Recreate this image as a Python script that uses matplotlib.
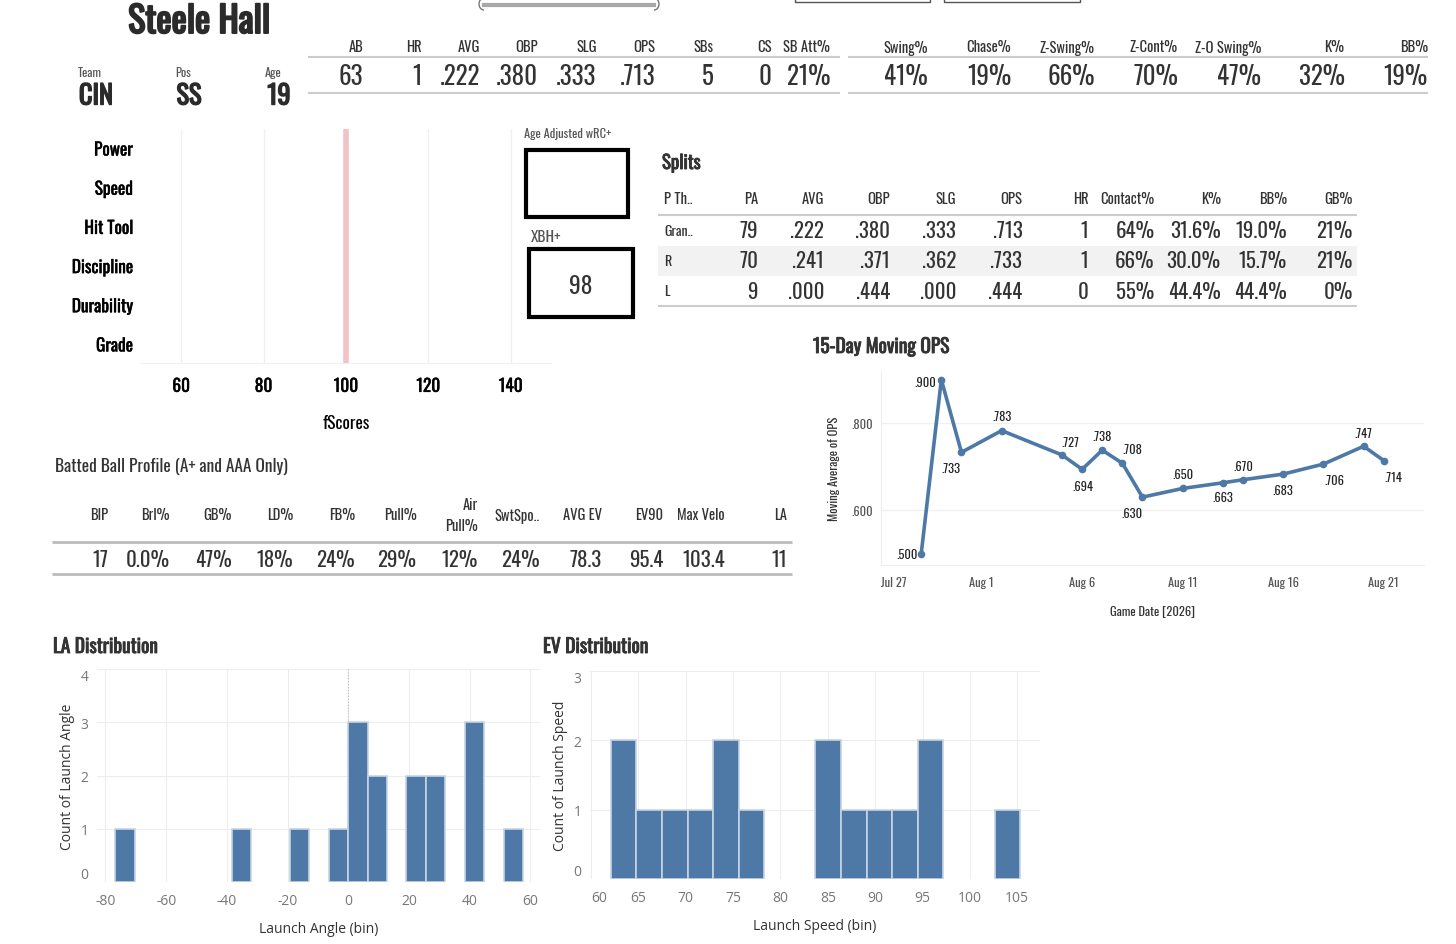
import numpy as np
import pandas as pd
import matplotlib
matplotlib.use("Agg")
import matplotlib.pyplot as plt
import matplotlib.patheffects as pe
from matplotlib import font_manager
from matplotlib.patches import Rectangle, Arc

# player card
player_name = "Steele Hall"
info_labels = ["Team", "Pos", "Age"]
info_values = ["CIN", "SS", "19"]

# season line
line_headers = ["AB", "HR", "AVG", "OBP", "SLG", "OPS", "SBs", "CS", "SB Att%"]
line_values = [63, 1, 0.222, 0.380, 0.333, 0.713, 5, 0, 21]
line_kinds = ["int", "int", "rate", "rate", "rate", "rate", "int", "int", "pct0"]

# plate discipline
disc_headers = ["Swing%", "Chase%", "Z-Swing%", "Z-Cont%", "Z-O Swing%", "K%", "BB%"]
disc_values = [41, 19, 66, 70, 47, 32, 19]

# fScores (no scores reported, only the 100 reference)
fscore_labels = ["Power", "Speed", "Hit Tool", "Discipline", "Durability", "Grade"]
fscore_ticks = [60, 80, 100, 120, 140]
fscore_ref = 100
xbh_plus = 98

# splits
split_headers = ["P Th..", "PA", "AVG", "OBP", "SLG", "OPS", "HR", "Contact%", "K%", "BB%", "GB%"]
split_groups = ["Gran..", "R", "L"]
split_pa = [79, 70, 9]
split_avg = [0.222, 0.241, 0.000]
split_obp = [0.380, 0.371, 0.444]
split_slg = [0.333, 0.362, 0.000]
split_ops = [0.713, 0.733, 0.444]
split_hr = [1, 1, 0]
split_contact = [64, 66, 55]
split_k = [31.6, 30.0, 44.4]
split_bb = [19.0, 15.7, 44.4]
split_gb = [21, 21, 0]

# batted ball profile
bb_headers = ["BIP", "Brl%", "GB%", "LD%", "FB%", "Pull%", "Air\nPull%", "SwtSpo..",
              "AVG EV", "EV90", "Max Velo", "LA"]
bb_values = [17, 0.0, 47, 18, 24, 29, 12, 24, 78.3, 95.4, 103.4, 11]
bb_kinds = ["int", "pct1", "pct0", "pct0", "pct0", "pct0", "pct0", "pct0",
            "dec1", "dec1", "dec1", "int"]

# 15-day moving OPS
ops_dates = ["2026-07-29", "2026-07-30", "2026-07-31", "2026-08-02", "2026-08-05",
             "2026-08-06", "2026-08-07", "2026-08-08", "2026-08-09", "2026-08-11",
             "2026-08-13", "2026-08-14", "2026-08-16", "2026-08-18", "2026-08-20",
             "2026-08-21"]
ops_values = [0.500, 0.900, 0.733, 0.783, 0.727, 0.694, 0.738, 0.708, 0.630, 0.650,
              0.663, 0.670, 0.683, 0.706, 0.747, 0.714]

# launch angle histogram (bin size 6.4)
la_bin_size = 6.4
la_bins = [-76.8, -38.4, -19.2, -6.4, 0.0, 6.4, 19.2, 25.6, 38.4, 51.2]
la_counts = [1, 1, 1, 1, 3, 2, 2, 2, 3, 1]

# exit velocity histogram (bin size 2.7)
ev_bin_size = 2.7
ev_bins = [62.1, 64.8, 67.5, 70.2, 72.9, 75.6, 83.7, 86.4, 89.1, 91.8, 94.5, 102.6]
ev_counts = [2, 1, 1, 1, 2, 1, 2, 1, 1, 1, 2, 1]


def fmt(v, kind):
    if kind == "int":
        return f"{v:.0f}"
    if kind == "rate":
        return f"{v:.3f}".lstrip("0")
    if kind == "pct0":
        return f"{v:.0f}%"
    if kind == "pct1":
        return f"{v:.1f}%"
    return f"{v:.1f}"


# fonts
available = {f.name for f in font_manager.fontManager.ttflist}
cond_font = next((n for n in ["Oswald", "Roboto Condensed", "Liberation Sans Narrow", "DejaVu Sans"]
                  if n in available), "DejaVu Sans")
plain_font = "Open Sans" if "Open Sans" in available else "DejaVu Sans"
plt.rcParams["font.family"] = [cond_font, "DejaVu Sans"]
if cond_font == "DejaVu Sans":
    plt.rcParams["font.stretch"] = "condensed"

BLUE = "#4e79a7"
DARK = "#333333"
GRID = "#ededed"
W, H = 1456, 945

fig = plt.figure(figsize=(W / 100, H / 100), dpi=100, facecolor="white")


def px_axes(x0, y0, x1, y1):
    ax = fig.add_axes([x0 / W, 1 - y1 / H, (x1 - x0) / W, (y1 - y0) / H])
    ax.patch.set_alpha(0)
    return ax


def heavy(width, color="#2b2b2b"):
    # the condensed face has no bold cut, so thicken the glyphs with a stroke
    return [pe.withStroke(linewidth=width, foreground=color)]


# background layer in pixel coords
bg = fig.add_axes([0, 0, 1, 1])
bg.set_xlim(0, W)
bg.set_ylim(H, 0)
bg.axis("off")


def txt(x, y, s, size, ha="center", va="center", color=DARK, stroke=0, **kw):
    t = bg.text(x, y, s, fontsize=size, ha=ha, va=va, color=color, zorder=5, **kw)
    if stroke:
        t.set_path_effects(heavy(stroke, color))
    return t


def hline(y, x0, x1, color="#cccccc", lw=1.5):
    bg.plot([x0, x1], [y, y], color=color, lw=lw, solid_capstyle="butt")


# slider / controls cut off at the top
bg.plot([484, 654], [6, 6], color="#a8a8a8", lw=3)
bg.add_patch(Arc((484, 5), 10, 12, theta1=90, theta2=270, color="#777777", lw=1))
bg.add_patch(Arc((654, 5), 10, 12, theta1=-90, theta2=90, color="#777777", lw=1))
for x0, x1 in [(795, 930), (944, 1080)]:
    bg.plot([x0, x0, x1, x1], [0, 3, 3, 0], color="#555555", lw=1)

# name and info
txt(199, 23, player_name, 26, color="#2b2b2b", stroke=1.4)
for x, lab, val in zip([93, 186, 276], info_labels, info_values):
    txt(x - 3, 73, lab, 9, color="#555555")
    txt(x + 3, 97, val, 19, color="#2b2b2b", stroke=1.0)

# season line table
hline(58, 308, 840)
hline(94, 308, 840)
for i, (h, v, k) in enumerate(zip(line_headers, line_values, line_kinds)):
    xr = 363 + 58.4 * i
    txt(xr, 48, h, 10.5, ha="right")
    txt(xr, 77, fmt(v, k), 18, ha="right")

# discipline table
hline(58, 848, 1428)
hline(94, 848, 1428)
for i, (h, v) in enumerate(zip(disc_headers, disc_values)):
    xr = 928 + 83.3 * i
    txt(xr, 48, h, 10.5, ha="right")
    txt(xr, 77, fmt(v, "pct0"), 18, ha="right")

# wRC+ boxes
txt(524, 134, "Age Adjusted wRC+", 9, ha="left", color="#555555")
bg.add_patch(Rectangle((526, 151), 102, 67, fill=False, lw=3, ec="black"))
txt(531, 237, "XBH+", 11, ha="left", color="#555555")
bg.add_patch(Rectangle((529, 250), 104, 68, fill=False, lw=3, ec="black"))
txt(581, 286, str(xbh_plus), 17)

# splits table
txt(662, 164, "Splits", 13.5, ha="left", stroke=0.6)
bg.add_patch(Rectangle((658, 247), 699, 30, color="#f2f2f2", lw=0))
hline(216, 658, 1357)
hline(307, 658, 1357)
split_cols = [split_pa, split_avg, split_obp, split_slg, split_ops, split_hr,
              split_contact, split_k, split_bb, split_gb]
split_kinds = ["int", "rate", "rate", "rate", "rate", "int", "pct0", "pct1", "pct1", "pct0"]
txt(664, 200, split_headers[0], 10.5, ha="left")
for j, g in enumerate(split_groups):
    txt(664, 231 + 30.5 * j, g, 10, ha="left")
for i, (h, col, k) in enumerate(zip(split_headers[1:], split_cols, split_kinds)):
    xr = 758 + 66.1 * i
    txt(xr, 200, h, 10.5, ha="right")
    for j, v in enumerate(col):
        txt(xr, 231 + 30.5 * j, fmt(v, k), 15, ha="right")

# batted ball profile table
txt(55, 466, "Batted Ball Profile (A+ and AAA Only)", 12.5, ha="left")
hline(543, 52, 792, color="#bbbbbb", lw=2)
hline(575, 52, 792, color="#bbbbbb", lw=2)
for i, (h, v, k) in enumerate(zip(bb_headers, bb_values, bb_kinds)):
    xr = 108 + 61.7 * i
    txt(xr, 516, h, 10.5, ha="right", linespacing=1.5)
    txt(xr, 560, fmt(v, k), 15, ha="right")

# fScores chart
ax_f = px_axes(140, 130, 552, 365)
ax_f.set_xlim(50, 150)
ax_f.set_ylim(len(fscore_labels) - 0.5, -0.5)
ax_f.set_yticks(range(len(fscore_labels)))
ax_f.set_yticklabels(fscore_labels, fontsize=12.5)
ax_f.set_xticks(fscore_ticks)
ax_f.set_xticklabels([str(t) for t in fscore_ticks], fontsize=12.5)
for lab in ax_f.get_yticklabels() + ax_f.get_xticklabels():
    lab.set_path_effects(heavy(0.3, "black"))
ax_f.tick_params(length=0, pad=10)
ax_f.tick_params(axis="y", pad=5)
ax_f.grid(axis="x", color="#f0f0f0", lw=1)
ax_f.axvline(fscore_ref, color="#f2c2c6", lw=4)
for s in ax_f.spines.values():
    s.set_visible(False)
ax_f.axhline(len(fscore_labels) - 0.5, color="#f0f0f0", lw=1.5)
ax_f.set_xlabel("fScores", fontsize=12.5, labelpad=14)
ax_f.set_axisbelow(True)

# moving OPS chart
txt(813, 347, "15-Day Moving OPS", 14, ha="left", stroke=0.6)
ax_o = px_axes(881, 372, 1424, 566)
dates = pd.to_datetime(ops_dates)
ax_o.plot(dates, ops_values, color=BLUE, lw=2.6, marker="o", ms=4.5, zorder=3)
ax_o.set_xlim(pd.Timestamp("2026-07-27"), pd.Timestamp("2026-08-23"))
ax_o.set_ylim(0.474, 0.92)
ops_offsets = [(-14, 0), (-16, -2), (-11, -16), (0, 15), (8, 13), (1, -17), (0, 14), (10, 14),
               (-11, -16), (0, 14), (0, -14), (0, 14), (0, -16), (11, -16), (0, 13), (10, -16)]
for d, v, off in zip(dates, ops_values, ops_offsets):
    ax_o.annotate(fmt(v, "rate"), (d, v), xytext=off, textcoords="offset pixels",
                  ha="center", va="center", fontsize=9, color="#222222")
tick_dates = pd.date_range("2026-07-27", "2026-08-21", freq="5D")
ax_o.set_xticks(tick_dates)
ax_o.set_xticklabels([f"{d:%b} {d.day}" for d in tick_dates], fontsize=9, color="#555555")
ax_o.get_xticklabels()[0].set_ha("left")
ax_o.set_yticks([0.6, 0.8])
ax_o.set_yticklabels([".600", ".800"], fontsize=9, color="#555555")
ax_o.tick_params(length=0, pad=8)
ax_o.tick_params(axis="y", pad=6)
ax_o.grid(axis="y", color="#f0f0f0", lw=1)
for name, s in ax_o.spines.items():
    s.set_visible(name in ("left", "bottom"))
    s.set_color("#eeeeee")
ax_o.set_ylabel("Moving Average of OPS", fontsize=9, color=DARK, labelpad=8)
ax_o.set_xlabel("Game Date [2026]", fontsize=9, color=DARK, labelpad=12)


def histogram(ax, bins, counts, width, xlim, xticks, ymax, ylabel, xlabel):
    ax.bar(bins, counts, width=width, align="edge", color=BLUE, edgecolor="#c6d4e4", lw=1.2, zorder=3)
    ax.set_xlim(*xlim)
    ax.set_ylim(0, ymax)
    ax.set_xticks(xticks)
    ax.set_xticklabels([str(t) for t in xticks], fontsize=10, color="#777777", family=plain_font)
    ax.set_yticks(range(ymax + 1))
    ax.set_yticklabels([str(t) for t in range(ymax + 1)], fontsize=10, color="#777777",
                       family=plain_font)
    ylabs = ax.get_yticklabels()
    ylabs[0].set_va("bottom")
    ylabs[-1].set_va("top")
    ax.tick_params(length=0, pad=8)
    ax.tick_params(axis="y", pad=6)
    ax.grid(color=GRID, lw=0.8)
    ax.set_axisbelow(True)
    for s in ax.spines.values():
        s.set_visible(False)
    ax.set_ylabel(ylabel, fontsize=10, color=DARK, family=plain_font, labelpad=4)
    ax.set_xlabel(xlabel, fontsize=10, color=DARK, family=plain_font, labelpad=9)


# LA distribution
txt(53, 647, "LA Distribution", 14, ha="left", stroke=0.6)
ax_la = px_axes(97, 670, 540, 883)
histogram(ax_la, la_bins, la_counts, la_bin_size, (-82.8, 63.2), list(range(-80, 61, 20)), 4,
          "Count of Launch Angle", "Launch Angle (bin)")
ax_la.axvline(0, color="#bbbbbb", lw=0.8, ls=":", zorder=2)

# EV distribution
txt(543, 647, "EV Distribution", 14, ha="left", stroke=0.6)
ax_ev = px_axes(590, 672, 1040, 880)
histogram(ax_ev, ev_bins, ev_counts, ev_bin_size, (59.9, 107.4), list(range(60, 106, 5)), 3,
          "Count of Launch Speed", "Launch Speed (bin)")
ax_ev.get_xticklabels()[0].set_ha("left")

fig.savefig("out.png", dpi=100, facecolor="white")
